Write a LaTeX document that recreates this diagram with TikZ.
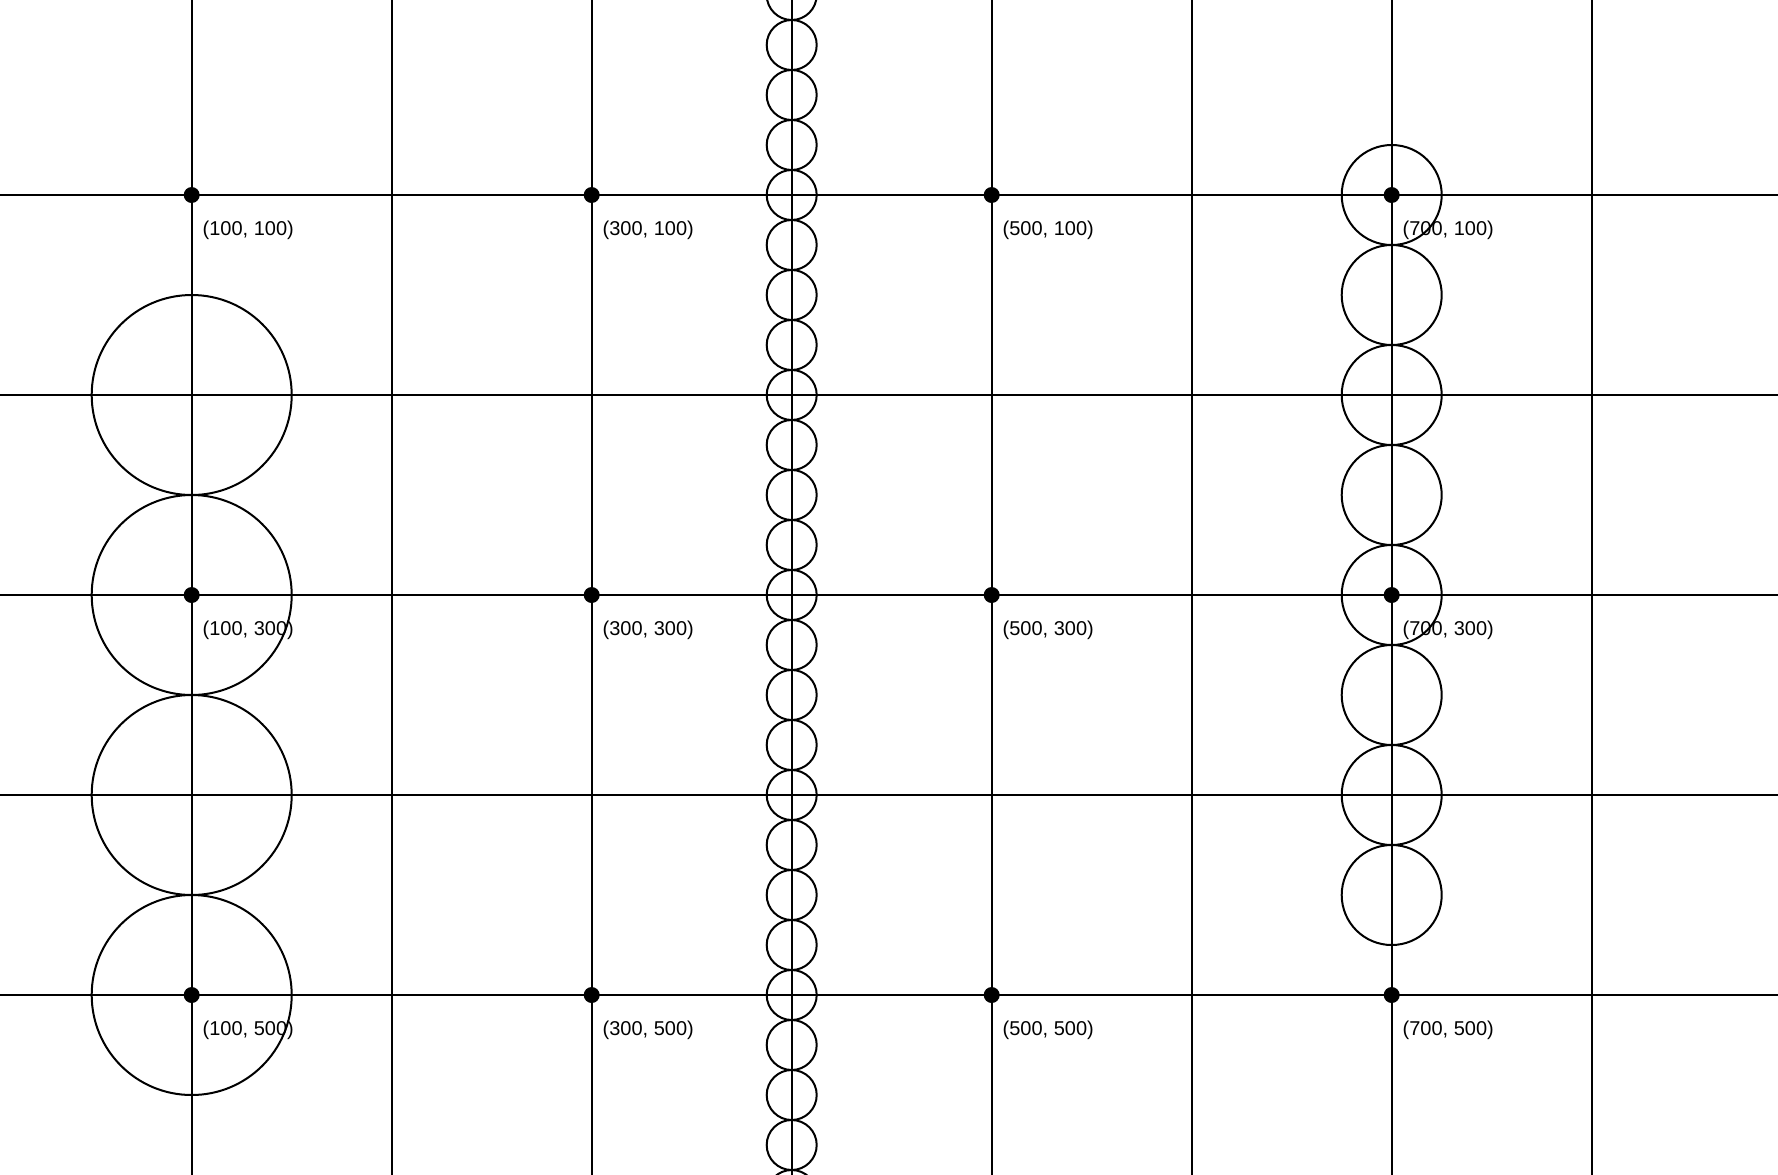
\documentclass[tikz,border=0pt]{standalone}
\usepackage{fontspec}
\setmainfont{Liberation Sans}
\begin{document}
\begin{tikzpicture}[x=1pt,y=-1pt,line width=1pt,
  lbl/.style={anchor=base west,inner sep=0pt,font=\fontsize{10}{12}\selectfont},
  gridline/.style={draw=black,line width=1pt},
  ring/.style={draw=black,line width=1pt},
  dotmark/.style={fill=black}]
\useasboundingbox (4.15,2.5) rectangle (893.15,589.5);
\foreach \x in {100,200,...,800} \draw[gridline] (\x,0) -- (\x,600);
\foreach \y in {100,200,...,500} \draw[gridline] (0,\y) -- (900,\y);
\foreach \y in {200,300,400,500} \draw[ring] (100,\y) circle[radius=50];
\foreach \y in {0,25,...,600} \draw[ring] (400,\y) circle[radius=12.5];
\foreach \y in {100,150,...,450} \draw[ring] (700,\y) circle[radius=25];
\foreach \x in {100,300,500,700} {
  \foreach \y in {100,300,500} {
    \fill[dotmark] (\x,\y) circle[radius=4];
    \node[lbl] (l\x-\y) at (\x+5,\y+20) {(\x, \y)};
  }
}
\end{tikzpicture}
\end{document}
